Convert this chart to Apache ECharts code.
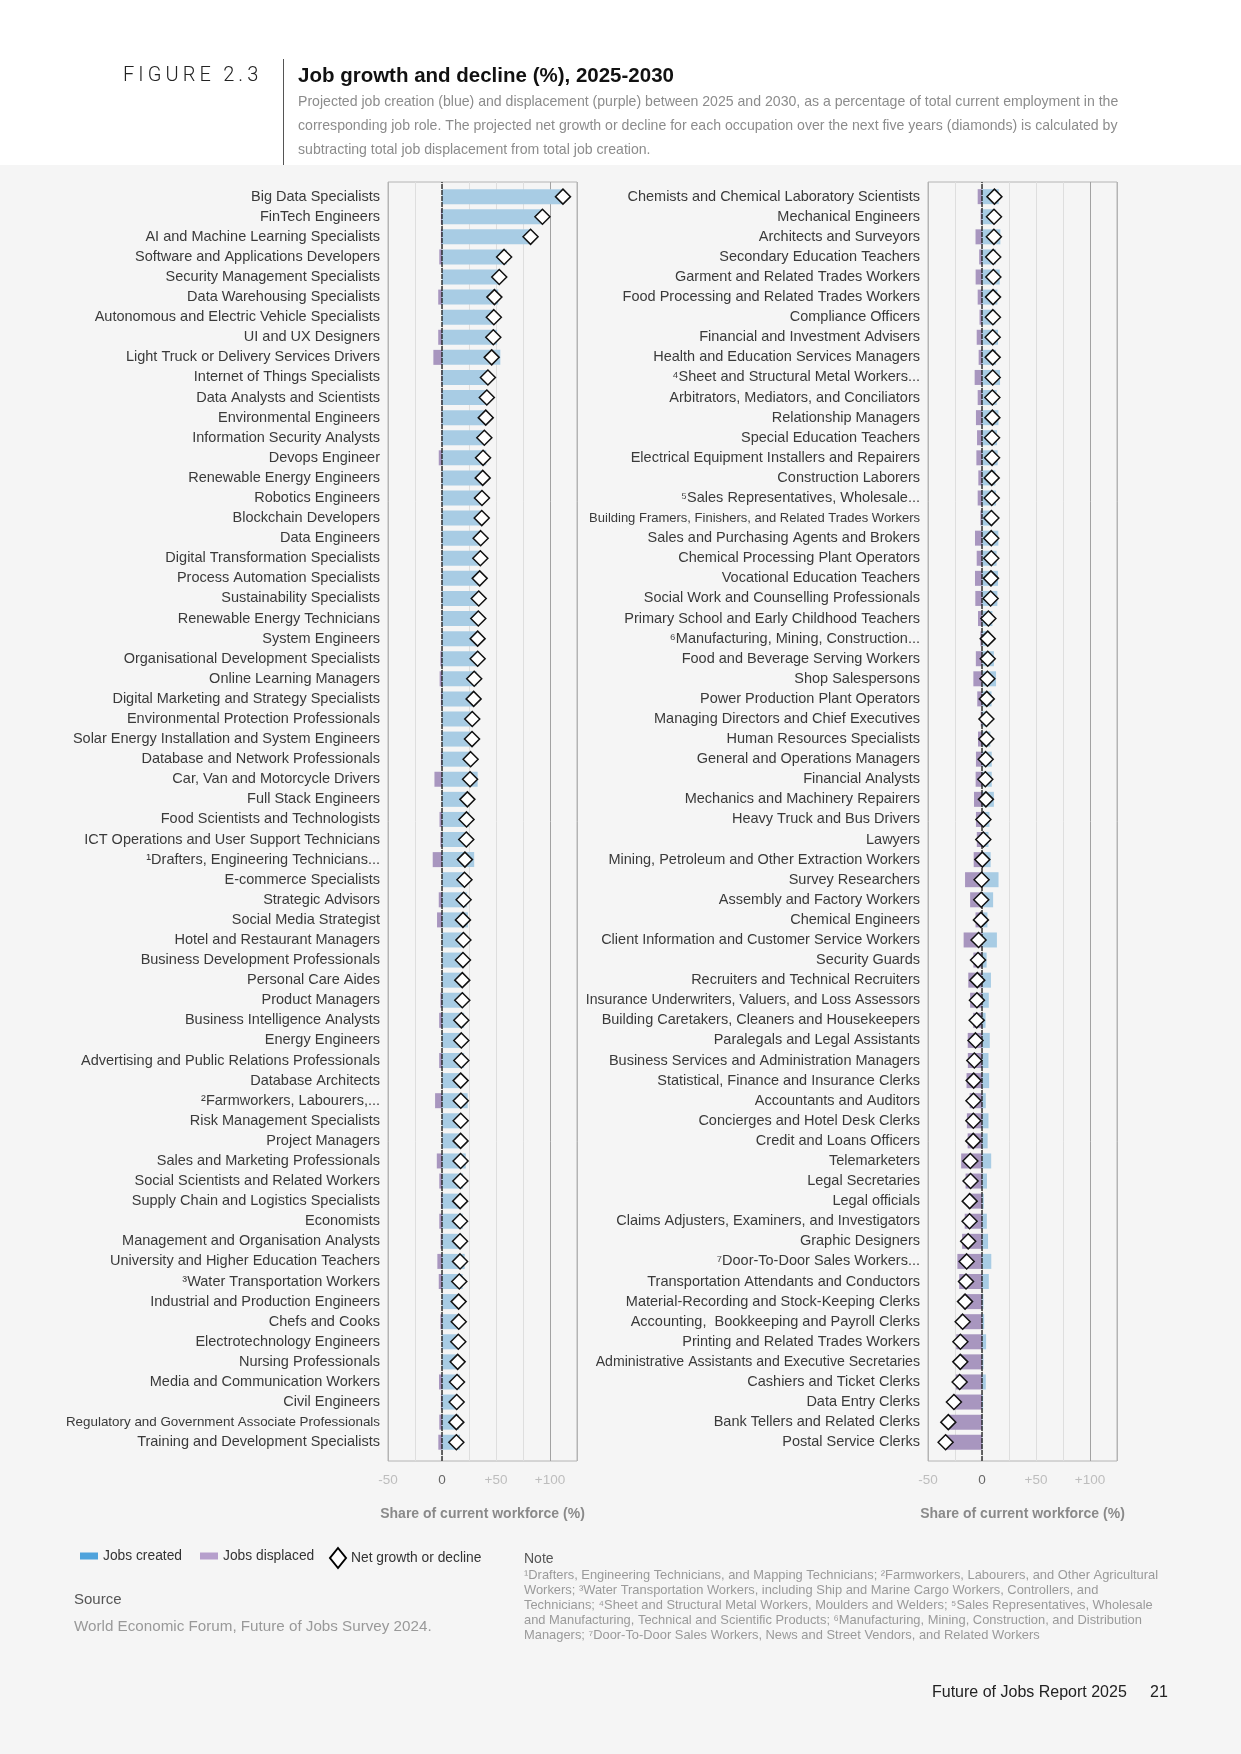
<!DOCTYPE html>
<html><head><meta charset="utf-8">
<script src="https://cdn.jsdelivr.net/npm/echarts/dist/echarts.min.js"></script>
<style>html,body{margin:0;padding:0;background:#f5f5f5}#c{width:1241px;height:1754px}</style>
</head><body><div id="c"></div>
<script>
// ---------- DATA ----------
const leftCategories = [
  "Big Data Specialists","FinTech Engineers","AI and Machine Learning Specialists","Software and Applications Developers",
  "Security Management Specialists","Data Warehousing Specialists","Autonomous and Electric Vehicle Specialists","UI and UX Designers",
  "Light Truck or Delivery Services Drivers","Internet of Things Specialists","Data Analysts and Scientists","Environmental Engineers",
  "Information Security Analysts","Devops Engineer","Renewable Energy Engineers","Robotics Engineers","Blockchain Developers",
  "Data Engineers","Digital Transformation Specialists","Process Automation Specialists","Sustainability Specialists",
  "Renewable Energy Technicians","System Engineers","Organisational Development Specialists","Online Learning Managers",
  "Digital Marketing and Strategy Specialists","Environmental Protection Professionals","Solar Energy Installation and System Engineers",
  "Database and Network Professionals","Car, Van and Motorcycle Drivers","Full Stack Engineers","Food Scientists and Technologists",
  "ICT Operations and User Support Technicians","¹Drafters, Engineering Technicians...","E-commerce Specialists","Strategic Advisors",
  "Social Media Strategist","Hotel and Restaurant Managers","Business Development Professionals","Personal Care Aides",
  "Product Managers","Business Intelligence Analysts","Energy Engineers","Advertising and Public Relations Professionals",
  "Database Architects","²Farmworkers, Labourers,...","Risk Management Specialists","Project Managers",
  "Sales and Marketing Professionals","Social Scientists and Related Workers","Supply Chain and Logistics Specialists","Economists",
  "Management and Organisation Analysts","University and Higher Education Teachers","³Water Transportation Workers",
  "Industrial and Production Engineers","Chefs and Cooks","Electrotechnology Engineers","Nursing Professionals",
  "Media and Communication Workers","Civil Engineers","Regulatory and Government Associate Professionals","Training and Development Specialists"
];
const leftCreated = [112,94,83,60,53,52,48,51,54,43,42,41,39.5,41,38,37.2,37,36,35.7,35,34.2,33.8,33.2,34.5,32,30.3,28.2,28,
  27.5,33,23.7,25,24,29.8,21,23,24,20,19.6,19,20.3,20.5,18,20.5,17.5,23.8,17.4,17.3,22,19.5,17.8,19.2,18,21,19,15.6,17,15.3,14.8,16.7,14.6,15.8,16.7];
const leftDisplaced = [0,1,1,2.5,0,3.5,0,3.5,8,0.5,0.5,0.5,0.3,3,0.3,0.2,0.2,0.2,0.2,0.1,0.2,0.2,0.2,1.5,2.2,1,0.2,0.2,
  1,7,0.2,2.3,1.5,8.6,0.2,3,4.6,0.2,0.2,0.2,1.5,2.6,0.1,2.6,0.2,6.4,0.1,0.1,4.8,2.5,1,2.5,1.3,4.3,3,0.2,1.5,0.2,0.3,2.8,1,2.5,3.4];

const rightCategories = [
  "Chemists and Chemical Laboratory Scientists","Mechanical Engineers","Architects and Surveyors","Secondary Education Teachers",
  "Garment and Related Trades Workers","Food Processing and Related Trades Workers","Compliance Officers","Financial and Investment Advisers",
  "Health and Education Services Managers","⁴Sheet and Structural Metal Workers...","Arbitrators, Mediators, and Conciliators",
  "Relationship Managers","Special Education Teachers","Electrical Equipment Installers and Repairers","Construction Laborers",
  "⁵Sales Representatives, Wholesale...","Building Framers, Finishers, and Related Trades Workers","Sales and Purchasing Agents and Brokers",
  "Chemical Processing Plant Operators","Vocational Education Teachers","Social Work and Counselling Professionals",
  "Primary School and Early Childhood Teachers","⁶Manufacturing, Mining, Construction...","Food and Beverage Serving Workers",
  "Shop Salespersons","Power Production Plant Operators","Managing Directors and Chief Executives","Human Resources Specialists",
  "General and Operations Managers","Financial Analysts","Mechanics and Machinery Repairers","Heavy Truck and Bus Drivers","Lawyers",
  "Mining, Petroleum and Other Extraction Workers","Survey Researchers","Assembly and Factory Workers","Chemical Engineers",
  "Client Information and Customer Service Workers","Security Guards","Recruiters and Technical Recruiters",
  "Insurance Underwriters, Valuers, and Loss Assessors","Building Caretakers, Cleaners and Housekeepers","Paralegals and Legal Assistants",
  "Business Services and Administration Managers","Statistical, Finance and Insurance Clerks","Accountants and Auditors",
  "Concierges and Hotel Desk Clerks","Credit and Loans Officers","Telemarketers","Legal Secretaries","Legal officials",
  "Claims Adjusters, Examiners, and Investigators","Graphic Designers","⁷Door-To-Door Sales Workers...",
  "Transportation Attendants and Conductors","Material-Recording and Stock-Keeping Clerks","Accounting,  Bookkeeping and Payroll Clerks",
  "Printing and Related Trades Workers","Administrative Assistants and Executive Secretaries","Cashiers and Ticket Clerks",
  "Data Entry Clerks","Bank Tellers and Related Clerks","Postal Service Clerks"
];
const rightCreated = [15.5,12.4,17,13,16.4,14.2,12.4,14.8,13,16.7,13.6,15.2,13.9,14.5,12.4,13,10.2,15.1,13.5,14.8,14.2,9.6,6.8,11,13,8.8,5.3,7.7,
  9,9,11,6.9,6,8,15.3,10.3,5,13.8,4.3,8.3,6.3,3.3,7.2,6,6.6,3.5,6,5.2,8.5,4.6,1.6,4.5,5.6,8.6,6.3,1.3,2,3.8,1.3,3.5,1,0.6,0.3];
const rightDisplaced = [4,1.3,6,2.6,5.9,4,2.3,4.9,3.1,6.8,4,5.6,4.6,5.2,3.4,4,1.5,6.5,4.9,6.5,6.2,3.7,1.5,5.7,8,4.4,1.2,3.7,
  5.6,5.9,7.4,5.6,4.8,7.7,15.7,11,6,17,8,12.7,11,8.2,13.2,13.1,14.3,11.4,14,13.3,19.3,15.2,13,16,18.4,22.8,21.1,17,19.9,23.8,21.4,24.2,27,31.8,34];

const tickValues = [-50, 0, 50, 100];
const tickLabels = ["-50", "0", "+50", "+100"];

// ---------- STYLE ----------
const FONT = "Liberation Sans, Arial, sans-serif";
const BLUE = "#a8cce4", PURPLE = "#a896bf";
const LABEL_SIZE = 14.5;
// labels printed in a condensed face in the original
const condensedLabels = {
  "Regulatory and Government Associate Professionals": "c1",
  "Building Framers, Finishers, and Related Trades Workers": "c2",
  "Insurance Underwriters, Valuers, and Loss Assessors": "c3",
  "Administrative Assistants and Executive Secretaries": "c3"
};
const netOf = (c, d) => c.map((v, i) => +(v - d[i]).toFixed(2));
const leftNet = netOf(leftCreated, leftDisplaced);
const rightNet = netOf(rightCreated, rightDisplaced);

const FRAME_TOP = 182, FRAME_H = 1279;
const ROW_TOP = 186.6, ROW_H = 63 * 20.09;
const PANELS = [{left: 388, cats: leftCategories, c: leftCreated, d: leftDisplaced, n: leftNet},
                {left: 928, cats: rightCategories, c: rightCreated, d: rightDisplaced, n: rightNet}];
const PW = 189;

const grid = [], xAxis = [], yAxis = [], series = [];
PANELS.forEach((p, k) => {
  const gf = grid.length;
  grid.push({left: p.left, top: FRAME_TOP, width: PW, height: FRAME_H, show: true, borderColor: "#b4b4b4", borderWidth: 1, backgroundColor: "transparent", containLabel: false, outerBoundsMode: "none"});
  grid.push({left: p.left, top: ROW_TOP, width: PW, height: ROW_H, containLabel: false, outerBoundsMode: "none"});
  xAxis.push({
    gridIndex: gf, type: "value", min: -50, max: 125, interval: 25,
    axisLine: {show: false}, axisTick: {show: false},
    splitLine: {show: true, showMinLine: true, showMaxLine: true,
      lineStyle: {width: 1, color: ["#b4b4b4", "#dedede", "#dedede", "#dedede", "#dedede", "#dedede", "#a2a2a2", "#b4b4b4"]}},
    axisLabel: {
      margin: 12, fontFamily: FONT, fontSize: 13,
      formatter: v => { const i = tickValues.indexOf(v); return i < 0 ? "" : (v === 0 ? "{z|" : "{g|") + tickLabels[i] + "}"; },
      rich: {g: {color: "#bdbdbd", fontSize: 13.5, fontFamily: FONT}, z: {color: "#666", fontSize: 13.5, fontFamily: FONT}}
    },
    name: "Share of current workforce (%)", nameLocation: "middle", nameGap: 46,
    nameTextStyle: {fontFamily: FONT, fontSize: 14, fontWeight: "bold", color: "#8a8a8a"}
  });
  xAxis.push({gridIndex: gf + 1, type: "value", min: -50, max: 125, interval: 25, show: false, splitLine: {show: false}});
  yAxis.push({gridIndex: gf, type: "value", min: 0, max: 1, show: false, splitLine: {show: false}});
  yAxis.push({
    gridIndex: gf + 1, type: "category", data: p.cats, inverse: true,
    axisLine: {show: false}, axisTick: {show: false}, splitLine: {show: false},
    axisLabel: {interval: 0, margin: 8, fontFamily: FONT, fontSize: LABEL_SIZE, color: "#3a3a3a",
      formatter: v => condensedLabels[v] ? "{" + condensedLabels[v] + "|" + v + "}" : v,
      rich: {
        c1: {fontFamily: FONT, fontSize: 13.4, color: "#3a3a3a"},
        c2: {fontFamily: FONT, fontSize: 13.0, color: "#3a3a3a"},
        c3: {fontFamily: FONT, fontSize: 14.1, color: "#3a3a3a"}
      }}
  });
  const xi = xAxis.length - 1, yi = yAxis.length - 1;
  series.push({name: "Jobs created", type: "bar", xAxisIndex: xi, yAxisIndex: yi, stack: "s" + k,
    data: p.c, barWidth: 15, itemStyle: {color: BLUE}, z: 2, silent: true});
  series.push({name: "Jobs displaced", type: "bar", xAxisIndex: xi, yAxisIndex: yi, stack: "s" + k,
    data: p.d.map(v => -v), barWidth: 15, itemStyle: {color: PURPLE}, z: 2, silent: true});
  series.push({name: "zero" + k, type: "line", xAxisIndex: xi - 1, yAxisIndex: yi - 1, data: [[0, 0], [0, 1]],
    symbol: "none", lineStyle: {color: "#1a1a1a", width: 1.3, type: [5, 1]}, z: 3, silent: true});
  series.push({name: "Net growth or decline", type: "scatter", xAxisIndex: xi, yAxisIndex: yi,
    data: p.n.map((v, i) => [v, i]), symbol: "diamond", symbolSize: 15,
    itemStyle: {color: "#ffffff", borderColor: "#111", borderWidth: 1.5, opacity: 1}, z: 4, silent: true});
});

const T = (x, y, text, o) => ({type: "text", x, y, silent: true, style: Object.assign({
  text, fill: "#333", fontSize: 14, fontFamily: FONT, align: "left", verticalAlign: "middle",
  textAlign: "left", textVerticalAlign: "middle"}, o || {})});

const subtitle = [
  "Projected job creation (blue) and displacement (purple) between 2025 and 2030, as a percentage of total current employment in the",
  "corresponding job role. The projected net growth or decline for each occupation over the next five years (diamonds) is calculated by",
  "subtracting total job displacement from total job creation."
];
const notes = [
  "¹Drafters, Engineering Technicians, and Mapping Technicians; ²Farmworkers, Labourers, and Other Agricultural",
  "Workers; ³Water Transportation Workers, including Ship and Marine Cargo Workers, Controllers, and",
  "Technicians; ⁴Sheet and Structural Metal Workers, Moulders and Welders; ⁵Sales Representatives, Wholesale",
  "and Manufacturing, Technical and Scientific Products; ⁶Manufacturing, Mining, Construction, and Distribution",
  "Managers; ⁷Door-To-Door Sales Workers, News and Street Vendors, and Related Workers"
];

const graphic = [
  {type: "rect", shape: {x: 0, y: 0, width: 1241, height: 165}, style: {fill: "#ffffff"}, silent: true, z: -10},
  {type: "line", shape: {x1: 283.5, y1: 59, x2: 283.5, y2: 165}, style: {stroke: "#555", lineWidth: 1}, silent: true},
  T(123, 76, "F I G U R E   2 . 3".replace(/ /g, "\u2009"), {fontSize: 20, fontFamily: "Roboto, Liberation Sans, sans-serif", fontWeight: 300, fill: "#222"}),
  T(298, 76, "Job growth and decline (%), 2025-2030", {fontSize: 20.5, fontWeight: "bold", fill: "#111"}),
  ...subtitle.map((s, i) => T(298, 102 + i * 24, s, {fontSize: 14.1, fill: "#8c8c8c"})),
  T(524, 1559, "Note", {fontSize: 14, fill: "#555"}),
  ...notes.map((s, i) => T(524, 1575 + i * 15.2, s, {fontSize: 12.9, fill: "#9a9a9a"})),
  T(74, 1600, "Source", {fontSize: 15, fill: "#555"}),
  T(74, 1627, "World Economic Forum, Future of Jobs Survey 2024.", {fontSize: 15.2, fill: "#999"}),
  T(932, 1693, "Future of Jobs Report 2025", {fontSize: 16, fill: "#222"}),
  T(1150, 1693, "21", {fontSize: 16, fill: "#222"})
];

const chart = echarts.init(document.getElementById("c"), null, {renderer: "canvas"});
chart.setOption({
  backgroundColor: "#f5f5f5",
  animation: false,
  tooltip: {show: false},
  legend: [
    {left: 80, top: 1549, padding: 0, itemWidth: 18, itemHeight: 7, itemGap: 18, selectedMode: false,
      textStyle: {fontFamily: FONT, fontSize: 13.8, color: "#333"},
      data: [{name: "Jobs created", icon: "rect", itemStyle: {color: "#4fa3dc"}},
             {name: "Jobs displaced", icon: "rect", itemStyle: {color: "#b69fcc"}}]},
    {left: 329, top: 1547, padding: 0, itemWidth: 16, itemHeight: 20, selectedMode: false,
      textStyle: {fontFamily: FONT, fontSize: 13.8, color: "#333"},
      data: [{name: "Net growth or decline", icon: "diamond", itemStyle: {color: "#fff", borderColor: "#000", borderWidth: 2}}]}
  ],
  grid, xAxis, yAxis, series, graphic
});
</script></body></html>
